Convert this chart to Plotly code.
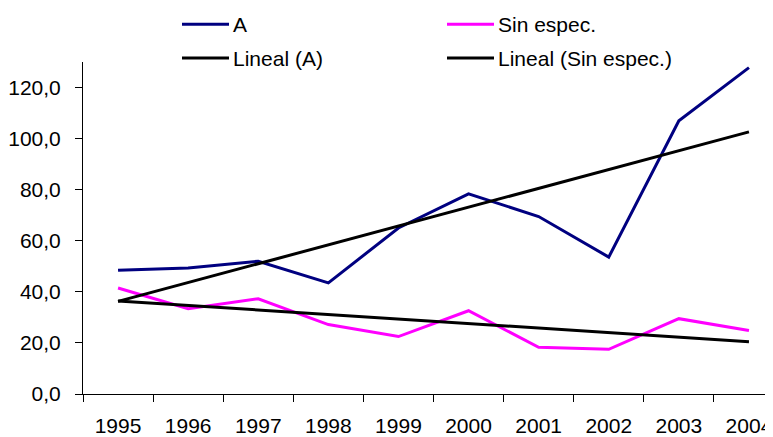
import numpy as np
import plotly.graph_objects as go

years = ["1995", "1996", "1997", "1998", "1999", "2000", "2001", "2002", "2003", "2004"]
serie_a = [48.5, 49.3, 52.0, 43.5, 65.0, 78.4, 69.5, 53.6, 107.0, 127.8]
serie_sin = [41.5, 33.4, 37.3, 27.2, 22.5, 32.6, 18.3, 17.5, 29.5, 24.9]
y_ticks = [0, 20, 40, 60, 80, 100, 120]

# Linear trendlines (as in the original "Lineal" trendlines)
idx = np.arange(len(years))
ka, ba = np.polyfit(idx, serie_a, 1)
ks, bs = np.polyfit(idx, serie_sin, 1)
trend_a = list(ka * idx + ba)
trend_sin = list(ks * idx + bs)

OFF = 8  # default page body margin
PAGE_W, PAGE_H = 773, 437
W, H = PAGE_W - OFF, PAGE_H - OFF
ML, MR, MT, MB = 83 - OFF, 0, 62 - OFF, 40
PW, PH = W - ML - MR, H - MT - MB
FONT = "Liberation Sans, Arial, sans-serif"

fig = go.Figure()
fig.add_trace(go.Scatter(x=years, y=serie_a, mode="lines", name="A",
                         line=dict(color="#000080", width=3), showlegend=False))
fig.add_trace(go.Scatter(x=years, y=serie_sin, mode="lines", name="Sin espec.",
                         line=dict(color="#FF00FF", width=3), showlegend=False))
fig.add_trace(go.Scatter(x=years, y=trend_a, mode="lines", name="Lineal (A)",
                         line=dict(color="#000000", width=3), showlegend=False))
fig.add_trace(go.Scatter(x=years, y=trend_sin, mode="lines", name="Lineal (Sin espec.)",
                         line=dict(color="#000000", width=3), showlegend=False))

def px_x(x):  # page pixel -> paper
    return (x - OFF - ML) / PW

def px_y(y):
    return (H - MB - (y - OFF)) / PH

legend_items = [
    ("A", "#000080", 182, 24),
    ("Sin espec.", "#FF00FF", 447, 24),
    ("Lineal (A)", "#000000", 182, 58),
    ("Lineal (Sin espec.)", "#000000", 447, 58),
]
shapes = []
annotations = []
for label, color, x0, yc in legend_items:
    shapes.append(dict(type="line", xref="paper", yref="paper",
                       x0=px_x(x0), x1=px_x(x0 + 47), y0=px_y(yc), y1=px_y(yc),
                       line=dict(color=color, width=3)))
    annotations.append(dict(xref="paper", yref="paper", x=px_x(x0 + 49), y=px_y(yc),
                            text=label, showarrow=False, xanchor="left", yanchor="middle",
                            font=dict(family=FONT, size=21, color="#000000")))

fig.update_layout(
    width=W, height=H,
    margin=dict(l=ML, r=MR, t=MT, b=MB),
    paper_bgcolor="white", plot_bgcolor="white",
    separators=",.",
    font=dict(family=FONT, size=21, color="#000000"),
    shapes=shapes, annotations=annotations,
    xaxis=dict(type="category", categoryorder="array", categoryarray=years,
               range=[-0.5, 9.343], showgrid=False, zeroline=False,
               showline=True, linecolor="#000000", linewidth=1,
               ticks="outside", tickson="boundaries", ticklen=7, tickcolor="#000000",
               ticklabelstandoff=13, tickfont=dict(family=FONT, size=21)),
    yaxis=dict(range=[0, 130], tickvals=y_ticks, tickformat=".1f",
               showgrid=False, zeroline=False, showline=True, linecolor="#000000",
               linewidth=1, ticks="outside", ticklen=7, tickcolor="#000000",
               ticklabelstandoff=10, tickfont=dict(family=FONT, size=21)),
)

fig.write_html("out.html")
